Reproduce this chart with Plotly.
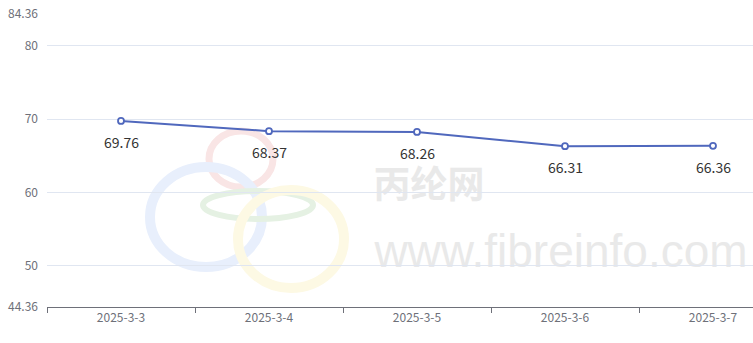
import plotly.graph_objects as go

categories = ["2025-3-3", "2025-3-4", "2025-3-5", "2025-3-6", "2025-3-7"]
values = [69.76, 68.37, 68.26, 66.31, 66.36]
y_ticks = [44.36, 50, 60, 70, 80, 84.36]
y_tick_text = ["44.36", "50", "60", "70", "80", "84.36"]

W, H = 753, 343
L, R, T, B = 47, 0, 14, 36
pw, ph = W - L - R, H - T - B
band = 148.0

def px(x):
    return (x - L) / pw

def py(y):
    return (H - B - y) / ph

fig = go.Figure()
fig.add_trace(go.Scatter(
    x=categories, y=values, mode="lines+markers",
    line=dict(color="#5068bd", width=2),
    marker=dict(symbol="circle", size=6, color="white",
                line=dict(color="#5068bd", width=1.8)),
    hoverinfo="skip", showlegend=False, cliponaxis=False,
))

annotations = []
for c, v in zip(categories, values):
    annotations.append(dict(x=c, y=v, xref="x", yref="y", text=f"{v:.2f}",
                            showarrow=False, yshift=-21,
                            font=dict(size=14, color="#333333",
                                      family="Noto Sans CJK SC, Noto Sans, sans-serif")))

def ring(cx, cy, rx, ry, color, w):
    return dict(type="circle", xref="paper", yref="paper",
                x0=px(cx - rx), x1=px(cx + rx), y0=py(cy + ry), y1=py(cy - ry),
                line=dict(color=color, width=w), layer="below")

def wtext(cx, cy, w, h, text, size, color, family):
    return dict(type="rect", xref="paper", yref="paper",
                x0=px(cx - w / 2), x1=px(cx + w / 2), y0=py(cy + h / 2), y1=py(cy - h / 2),
                line=dict(width=0), fillcolor="rgba(0,0,0,0)", layer="below",
                label=dict(text=text, textposition="middle center",
                           font=dict(size=size, color=color, family=family)))

shapes = [
    ring(241, 159, 32, 28, "#f9e5e5", 7),
    ring(206, 217, 56, 50, "#e8effc", 10),
    ring(258, 205, 55, 14, "#e5f1e3", 6),
    ring(291, 239, 53, 49, "#fdf9e4", 10),
    wtext(429, 188, 120, 40, "<b>丙纶网</b>", 37, "#e9e9e9", "Noto Sans CJK SC"),
    wtext(561, 247, 380, 50, "www.fibreinfo.com", 46, "#e9e9e9", "Liberation Sans, Arial"),
]

fig.update_layout(
    width=W, height=H,
    margin=dict(l=L, r=R, t=T, b=B),
    paper_bgcolor="white", plot_bgcolor="white",
    annotations=annotations, shapes=shapes,
    xaxis=dict(type="category", range=[-0.5, -0.5 + pw / band],
               tickson="boundaries", ticks="outside", ticklen=5, tickcolor="#6e7079",
               showline=True, linecolor="#6e7079", linewidth=1,
               showgrid=False, zeroline=False,
               tickfont=dict(size=12, color="#6e7079",
                             family="Noto Sans CJK SC, Noto Sans, sans-serif")),
    yaxis=dict(range=[44.36, 84.36], tickmode="array", tickvals=y_ticks, ticktext=y_tick_text,
               showgrid=True, gridcolor="#e0e6f1", gridwidth=1, zeroline=False,
               showline=False, ticks="", ticklabelstandoff=8,
               tickfont=dict(size=12, color="#6e7079",
                             family="Noto Sans CJK SC, Noto Sans, sans-serif")),
)

fig.write_html("out.html")
